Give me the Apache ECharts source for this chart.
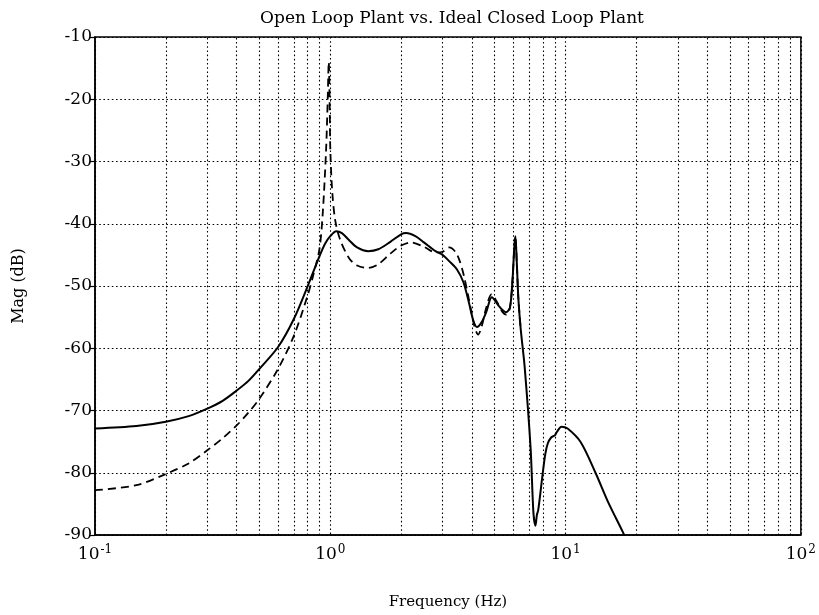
<!DOCTYPE html>
<html>
<head>
<meta charset="utf-8">
<script src="https://cdn.jsdelivr.net/npm/echarts@6/dist/echarts.min.js"></script>
<style>
  html, body { margin: 0; padding: 0; background: #fff; }
  #chart { width: 819px; height: 615px; }
</style>
</head>
<body>
<div id="chart"></div>
<script>
// solid curve (Open Loop Plant)
var solidFreq = [0.1, 0.15, 0.2, 0.25, 0.3, 0.35, 0.4, 0.45, 0.5, 0.6, 0.7, 0.8, 0.9, 0.95,
    1.0, 1.06, 1.12, 1.2, 1.3, 1.45, 1.6, 1.8, 2.0, 2.1, 2.3, 2.5, 2.8, 3.0, 3.2, 3.45,
    3.68, 3.88, 4.05, 4.2, 4.4, 4.6, 4.86, 5.2, 5.58, 5.8, 5.95, 6.05, 6.12, 6.2, 6.3,
    6.45, 6.7, 7.1, 7.3, 7.45, 7.55, 7.65, 7.8, 8.0, 8.2, 8.4, 8.7, 9.0, 9.2, 9.6, 10.2,
    11.6, 13.4, 15.2, 17.5, 17.9];
var solidMag = [-72.9, -72.5, -71.8, -70.9, -69.7, -68.4, -66.8, -65.2, -63.3, -59.8, -55.3, -50.1, -45.2, -43.2,
    -42, -41.2, -41.5, -42.6, -43.8, -44.4, -44.1, -42.9, -41.7, -41.5, -42, -43, -44.4, -45, -46, -47.3,
    -49.4, -52.6, -55.5, -56.6, -55.8, -54.2, -51.8, -53.2, -54.2, -53.5, -49, -44, -42, -46, -52,
    -57, -63, -76, -86.4, -88.5, -86.8, -86, -83.5, -80, -77, -75.3, -74.3, -74, -73.4, -72.6, -72.9,
    -75.1, -80, -84.8, -89.5, -90.4];

// dashed curve (Ideal Closed Loop Plant)
var dashFreq = [0.1, 0.15, 0.2, 0.25, 0.3, 0.35, 0.4, 0.45, 0.5, 0.6, 0.7, 0.8, 0.85, 0.9, 0.93,
    0.96, 0.975, 0.985, 0.995, 1.0, 1.02, 1.05, 1.1, 1.2, 1.3, 1.45, 1.6, 1.8, 2.0, 2.2, 2.5,
    2.8, 3.0, 3.2, 3.4, 3.55, 3.7, 3.9, 4.1, 4.25, 4.4, 4.6, 4.85, 5.1, 5.4, 5.6, 5.8, 5.95,
    6.05, 6.12, 6.2, 6.3, 6.45];
var dashMag = [-82.8, -82, -80.2, -78.5, -76.4, -74.4, -72.4, -70.3, -68.1, -63.3, -58, -51.6, -48, -44, -38,
    -28, -20, -14, -22, -28, -35, -39.5, -42.5, -45.5, -46.7, -47.1, -46.5, -44.8, -43.5, -43, -43.7,
    -44.6, -44.5, -43.8, -44.5, -46, -48.4, -52.5, -56.5, -57.8, -56.5, -53.5, -51.3, -52.5, -54.2, -54.6, -53.5, -49,
    -44, -42, -46, -52, -57];

// minor decade gridlines
var minorFreq = [0.2, 0.3, 0.4, 0.5, 0.6, 0.7, 0.8, 0.9,
    2, 3, 4, 5, 6, 7, 8, 9,
    20, 30, 40, 50, 60, 70, 80, 90];

var yTicks = [-90, -80, -70, -60, -50, -40, -30, -20, -10];

function pairs(xs, ys) {
    return xs.map(function (x, i) { return [x, ys[i]]; });
}

var font = 'DejaVu Serif';
var gridLine = {color: '#000', width: 1.1, type: [1.6, 2.6]};

var chart = echarts.init(document.getElementById('chart'));
chart.setOption({
    animation: false,
    backgroundColor: '#fff',
    title: {
        text: 'Open Loop Plant vs. Ideal Closed Loop Plant',
        left: 447,
        textAlign: 'center',
        top: 5,
        textStyle: {fontFamily: font, fontSize: 17, fontWeight: 'normal', color: '#000'}
    },
    grid: {
        left: 95,
        right: 15,
        top: 37,
        bottom: 78,
        show: true,
        borderColor: '#000',
        borderWidth: 1.5
    },
    xAxis: {
        type: 'log',
        logBase: 10,
        min: 0.1,
        max: 100,
        name: 'Frequency (Hz)',
        nameLocation: 'middle',
        nameGap: 60,
        nameTextStyle: {fontFamily: font, fontSize: 15, color: '#000'},
        axisLine: {lineStyle: {color: '#000', width: 1.5}},
        axisTick: {show: false},
        splitLine: {show: true, lineStyle: gridLine},
        axisLabel: {
            margin: 9,
            formatter: function (v) {
                var e = Math.round(Math.log10(v));
                return '{b|10}{s|' + (e < 0 ? '-' + (-e) : e) + '}';
            },
            rich: {
                b: {fontFamily: font, fontSize: 17, color: '#000', lineHeight: 22},
                s: {fontFamily: font, fontSize: 12, color: '#000', verticalAlign: 'top', padding: [0, 0, 7, 1]}
            }
        }
    },
    yAxis: {
        type: 'value',
        min: yTicks[0],
        max: yTicks[yTicks.length - 1],
        interval: 10,
        name: 'Mag (dB)',
        nameLocation: 'middle',
        nameGap: 68,
        nameTextStyle: {fontFamily: font, fontSize: 16, color: '#000'},
        axisLine: {show: true, lineStyle: {color: '#000', width: 1.5}},
        axisTick: {show: true, length: 5, lineStyle: {color: '#000', width: 1.2}},
        splitLine: {show: true, lineStyle: gridLine},
        axisLabel: {fontFamily: font, fontSize: 17, color: '#000', margin: 3}
    },
    series: [
        {
            name: 'minor grid',
            type: 'line',
            data: [],
            silent: true,
            z: 1,
            markLine: {
                silent: true,
                symbol: ['none', 'none'],
                label: {show: false},
                lineStyle: gridLine,
                data: minorFreq.map(function (f) { return {xAxis: f}; })
            }
        },
        {
            name: 'Ideal Closed Loop Plant',
            type: 'line',
            data: pairs(dashFreq, dashMag),
            showSymbol: false,
            smooth: 0.3,
            clip: true,
            z: 3,
            lineStyle: {color: '#000', width: 1.8, type: [8, 5]}
        },
        {
            name: 'Open Loop Plant',
            type: 'line',
            data: pairs(solidFreq, solidMag),
            showSymbol: false,
            smooth: 0.3,
            clip: true,
            z: 4,
            lineStyle: {color: '#000', width: 2}
        }
    ]
});
</script>
</body>
</html>
